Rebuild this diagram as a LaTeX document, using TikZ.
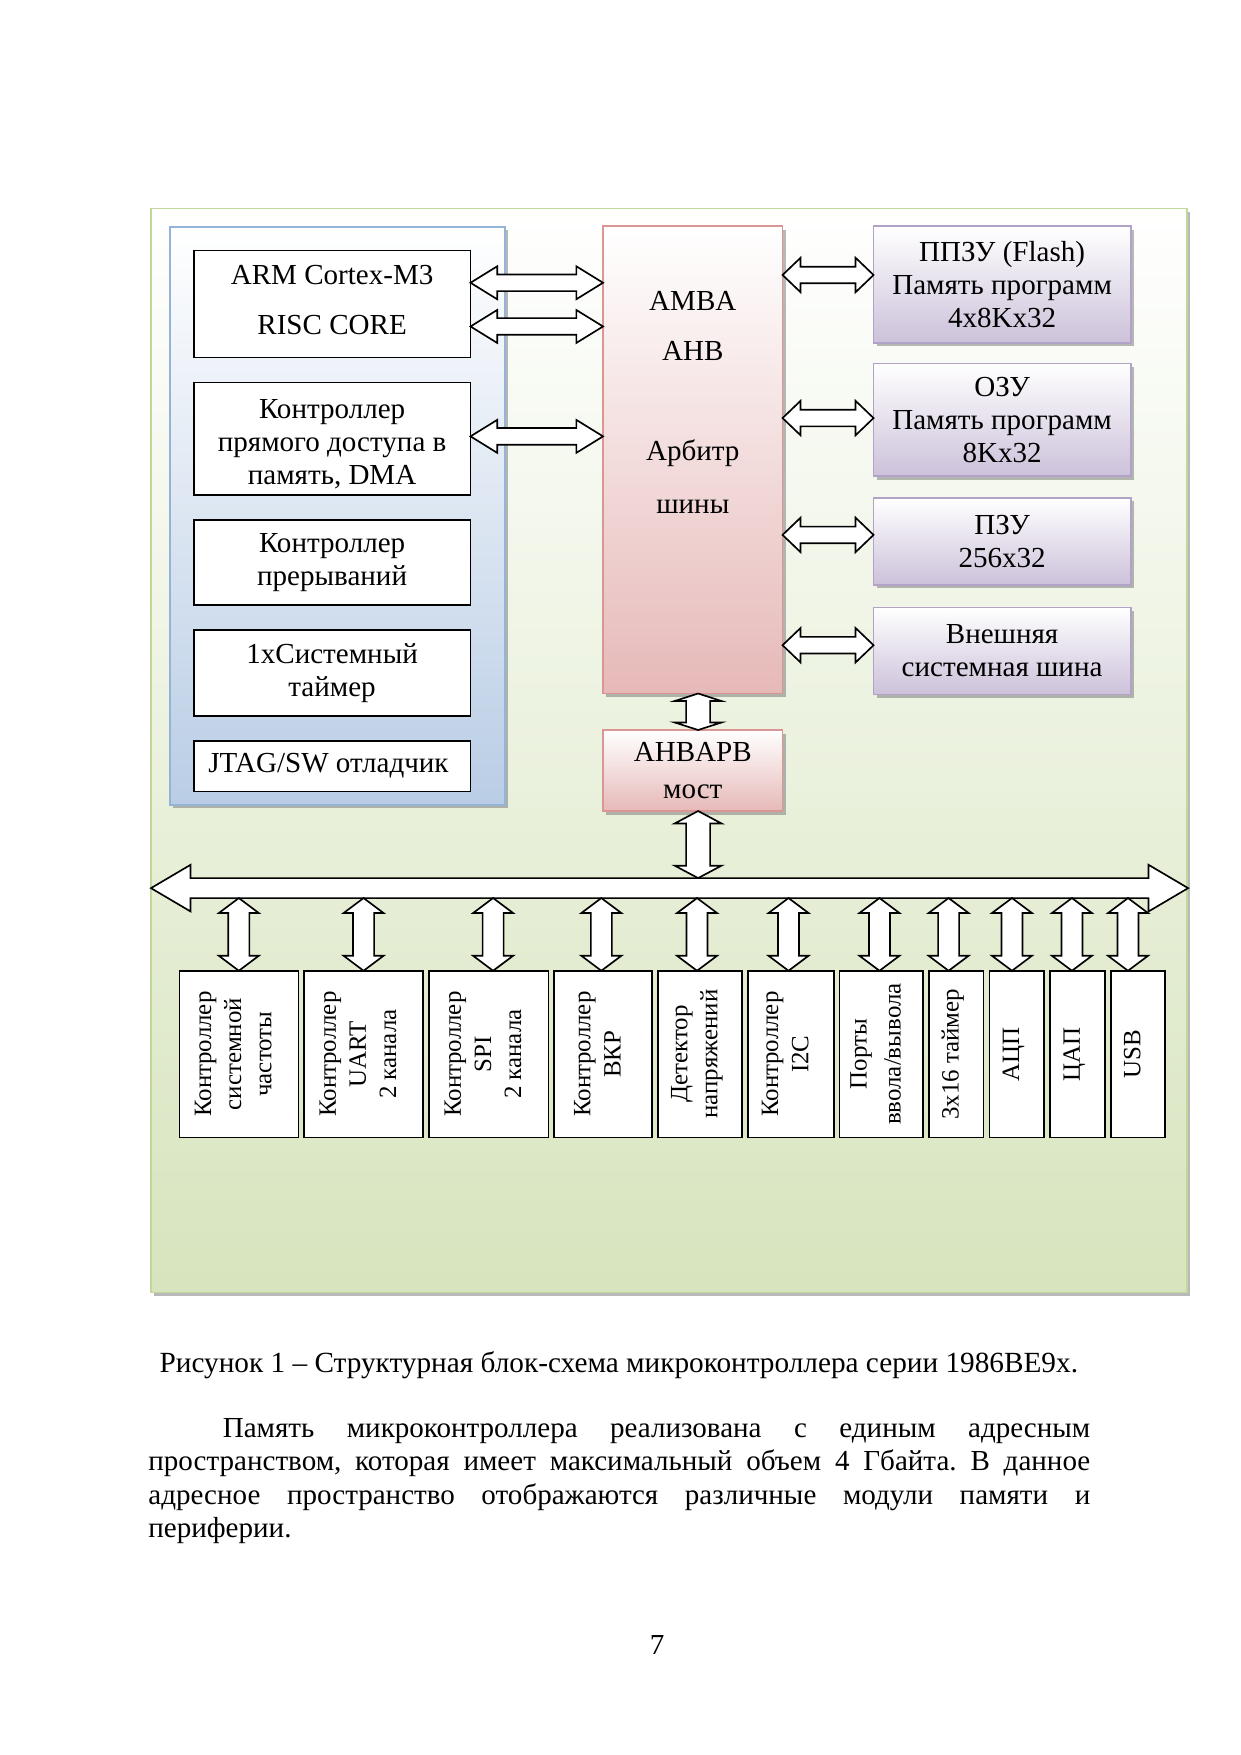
\documentclass[tikz,border=0pt]{standalone}
\usepackage{fontspec}
\setmainfont{Liberation Serif}
\usepackage{graphicx}
\usetikzlibrary{positioning,calc,shadows}

\definecolor{boardgreen}{HTML}{D7E4BD}
\definecolor{boardline}{HTML}{C3D69B}
\definecolor{corepanel}{HTML}{B9CDE5}
\definecolor{coreline}{HTML}{95B3D7}
\definecolor{ahbpink}{HTML}{E6B9B8}
\definecolor{ahbline}{HTML}{D99694}
\definecolor{memviolet}{HTML}{CCC1DA}
\definecolor{memline}{HTML}{B3A2C7}

\newcommand\dblarrow[5]{%
  \path #4 coordinate (da) #5 coordinate (db);
  \path ($(da)!#3!(db)$) coordinate (dha) ($(db)!#3!(da)$) coordinate (dhb);
  \draw [arrowline] (da) -- ($(dha)!#2!90:(db)$) -- ($(dha)!#1!90:(db)$)
    -- ($(dhb)!#1!-90:(da)$) -- ($(dhb)!#2!-90:(da)$) -- (db)
    -- ($(dhb)!#2!90:(da)$) -- ($(dhb)!#1!90:(da)$)
    -- ($(dha)!#1!-90:(db)$) -- ($(dha)!#2!-90:(db)$) -- cycle;}
\newcommand\rottext[1]{\rotatebox{90}{\fontsize{12}{14.5}\selectfont
  \begin{tabular}{@{}c@{}}#1\end{tabular}}}

\begin{document}
\frenchspacing
\begin{tikzpicture}[x=1mm, y=-1mm, font=\fontsize{14}{16}\selectfont,
	block/.style = { rectangle, draw=black, line width=0.8pt, fill=white,
	align=center, outer sep=0pt },
	shade shadow/.style = { drop shadow={shadow xshift=0.55mm,
	shadow yshift=-0.6mm, fill=black!55} },
	board/.style = { rectangle, draw=boardline, line width=0.8pt,
	top color=white, bottom color=boardgreen, shade shadow },
	corebox/.style = { rectangle, draw=coreline, line width=0.8pt,
	top color=white, bottom color=corepanel, shade shadow },
	ahbbox/.style = { rectangle, draw=ahbline, line width=0.6pt,
	top color=white, bottom color=ahbpink, shade shadow, align=center,
	outer sep=0pt },
	membox/.style = { rectangle, draw=memline, line width=0.8pt,
	top color=white, bottom color=memviolet, shade shadow, align=center,
	minimum width=43.54mm, outer sep=0pt },
	periph/.style = { block, inner sep=0.5pt, minimum height=28.25mm },
	arrowline/.style = { draw=black, fill=white, line width=0.8pt,
	line join=miter } ]

  \useasboundingbox (0,0) rectangle (210,297.2);

  \node [name=board, board, anchor=north west,
	minimum width=175.5mm, minimum height=183.6mm] at (25.4,35.14) {};
  \node [name=core, corebox, anchor=north west,
	minimum width=56.8mm, minimum height=97.9mm] at (28.6,38.27) {};

  \node [name=arm, block, anchor=north west,
	minimum width=46.88mm, minimum height=18.15mm] at (32.8,42.41) {};
  \node [name=armtext, align=center, yshift=0.7mm] at (arm.center)
	{ ARM Cortex-M3\\[8pt]RISC CORE };
  \node [name=dma, block, minimum width=46.88mm, minimum height=19.07mm,
	below=4.2mm of arm] {};
  \node [name=dmatext, align=center, yshift=-0.9mm] at (dma.center)
	{ Контроллер\\прямого доступа в\\память, DMA };
  \node [name=irq, block, minimum width=46.88mm, minimum height=14.46mm,
	below=4.2mm of dma] { Контроллер\\прерываний };
  \node [name=systick, block, minimum width=46.88mm, minimum height=14.57mm,
	below=4.2mm of irq] { 1xСистемный\\таймер };
  \node [name=jtag, block, minimum width=46.88mm, minimum height=8.55mm,
	below=4.2mm of systick] { JTAG/SW отладчик };

  \node [name=amba, ahbbox, anchor=north west,
	minimum width=30.4mm, minimum height=79.17mm] at (102.12,38.27) {};
  \node [name=ambatext, align=center, below=9.9mm of amba.north]
	{ AMBA\\[8pt]AHB\\[32pt]Арбитр\\[9.5pt]шины };
  \node [name=ahbapb, ahbbox, minimum width=30.4mm, minimum height=13.72mm,
	below=6.18mm of amba] { AHBAPB\\[1.5pt]мост };

  \node [name=flash, membox, anchor=north west, minimum height=19.8mm]
	at (147.93,38.27) { ППЗУ (Flash)\\Память программ\\4x8Kx32 };
  \node [name=ram, membox, minimum height=19.05mm, below=3.5mm of flash]
	{ ОЗУ\\Память программ\\8Kx32 };
  \node [name=rom, membox, minimum height=14.73mm, below=3.7mm of ram]
	{ ПЗУ\\256x32 };
  \node [name=extbus, membox, minimum height=14.73mm, below=3.8mm of rom]
	{ Внешняя\\системная шина };

  \node [name=b1, periph, anchor=north west, minimum width=20.15mm]
	at (30.37,164.39) { \rottext{Контроллер\\системной\\частоты} };
  \node [name=b2, periph, minimum width=20.1mm, right=1mm of b1]
	{ \rottext{Контроллер\\UART\\2 канала} };
  \node [name=b3, periph, minimum width=20.25mm, right=1mm of b2]
	{ \rottext{Контроллер\\SPI\\2 канала} };
  \node [name=b4, periph, minimum width=16.53mm, right=1mm of b3]
	{ \rottext{Контроллер\\ВКР} };
  \node [name=b5, periph, minimum width=14.28mm, right=1mm of b4]
	{ \rottext{Детектор\\напряжений} };
  \node [name=b6, periph, minimum width=14.5mm, right=1mm of b5]
	{ \rottext{Контроллер\\I2C} };
  \node [name=b7, periph, minimum width=14.1mm, right=1mm of b6]
	{ \rottext{Порты\\[2pt]ввола/вывола} };
  \node [name=b8, periph, minimum width=9.26mm, right=1mm of b7]
	{ \rottext{3x16 таймер} };
  \node [name=b9, periph, minimum width=9.26mm, right=1mm of b8]
	{ \rottext{АЦП} };
  \node [name=b10, periph, minimum width=9.31mm, right=1mm of b9]
	{ \rottext{ЦАП} };
  \node [name=b11, periph, minimum width=9.2mm, right=1mm of b10]
	{ \rottext{USB} };

  \coordinate (busl) at (25.57,150.4);
  \coordinate (busr) at (201.2,150.4);
  \coordinate (bust) at (0,148.7);
  \coordinate (busb) at (0,152.08);

  \dblarrow{1.41mm}{2.79mm}{4.52mm}{($(arm.east)+(0,-3.6)$)}{($(arm.east -| amba.west)+(0,-3.6)$)}
  \dblarrow{1.41mm}{2.79mm}{4.52mm}{($(arm.east)+(0,3.8)$)}{($(arm.east -| amba.west)+(0,3.8)$)}
  \dblarrow{1.41mm}{2.79mm}{4.52mm}{($(dma.east)+(0,-0.4)$)}{($(dma.east -| amba.west)+(0,-0.4)$)}

  \dblarrow{1.41mm}{2.92mm}{3.05mm}{($(flash.west -| amba.east)+(0,-1.6)$)}{($(flash.west)+(0,-1.6)$)}
  \dblarrow{1.41mm}{2.92mm}{3.05mm}{($(ram.west -| amba.east)+(0,-0.3)$)}{($(ram.west)+(0,-0.3)$)}
  \dblarrow{1.41mm}{2.92mm}{3.05mm}{($(rom.west -| amba.east)+(0,-1.1)$)}{($(rom.west)+(0,-1.1)$)}
  \dblarrow{1.41mm}{2.92mm}{3.05mm}{($(extbus.west -| amba.east)+(0,-0.95)$)}{($(extbus.west)+(0,-0.95)$)}

  \dblarrow{2.03mm}{3.95mm}{1.27mm}{($(amba.south)+(0.9,0)$)}{($(ahbapb.north)+(0.9,0)$)}
  \dblarrow{2.03mm}{3.95mm}{2.1mm}{($(ahbapb.south)+(0.9,0)$)}{($(ahbapb.south |- bust)+(0.9,0)$)}

  \dblarrow{1.69mm}{3.95mm}{6.7mm}{(busl)}{(busr)}

  \foreach \b/\dx in {b1/0,b2/0,b3/0.76,b4/-0.3,b5/-0.5,b6/-0.4,b7/-0.3,
	b8/-1.27,b9/-0.8,b10/-0.93,b11/-1.69}
	\dblarrow{1.78mm}{3.39mm}{2.54mm}{($(\b.north |- busb)+(\dx,0)$)}{($(\b.north)+(\dx,0)$)};

  \node [name=caption, font=\fontsize{14.1}{16.1}\selectfont] at (104.8,231.2)
	{ Рисунок 1 – Структурная блок-схема микроконтроллера серии 1986ВЕ9х. };
  \node [name=para, anchor=north west, inner sep=0pt, text width=159.5mm,
	align=justify, font=\fontsize{14}{16.1}\selectfont] at (25.06,240.1)
	{\hspace*{12.6mm}Память микроконтроллера реализована с единым адресным\linebreak
	пространством, которая имеет максимальный объем 4 Гбайта. В данное\linebreak
	адресное пространство отображаются различные модули памяти и\linebreak
	периферии.};
  \node [name=pagenum] at (111.3,278.6) { 7 };
\end{tikzpicture}
\end{document}
